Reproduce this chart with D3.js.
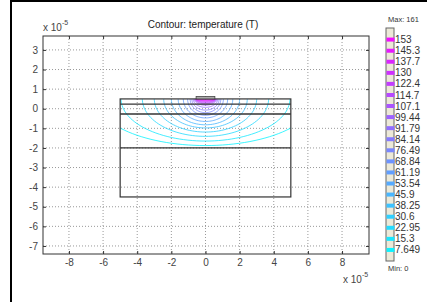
<!DOCTYPE html>
<html>
<head>
<meta charset="utf-8">
<script src="https://cdn.jsdelivr.net/npm/d3@7"></script>
<style>
  body { margin: 0; background: #fff; }
  svg { display: block; font-family: Arial, "Liberation Sans", sans-serif; }
  .tick text { fill: #444; font-size: 10px; }
  .tick line { stroke: #333; }
  .grid line { stroke: #999; stroke-dasharray: 1,2; }
  .lbl-xs { font-size: 10px; fill: #333; }
</style>
</head>
<body>
<div id="chart"></div>
<script>
// axis ticks (units of 1e-5)
var xTicks = [-8, -6, -4, -2, 0, 2, 4, 6, 8];
var yTicks = [-7, -6, -5, -4, -3, -2, -1, 0, 1, 2, 3];

// geometry (units of 1e-5)
var domainX = [-5, 5];
var layerY = [0.5, 0.24, -0.27, -2, -4.5];
var heater = { x0: -0.55, x1: 0.55, y0: 0.5, y1: 0.62 };

// contour levels and their extent under the heater
var levels = [7.649, 15.3, 22.95, 30.6, 38.25, 45.9, 53.54, 61.19, 68.84, 76.49,
              84.14, 91.79, 99.44, 107.1, 114.7, 122.4, 130, 137.7, 145.3, 153];
var contourRx = [6.4, 4.95, 3.7, 3.0, 2.45, 2.0, 1.6, 1.3, 1.05, 0.9,
                 0.8, 0.72, 0.66, 0.62, 0.6, 0.58, 0.57, 0.56, 0.55, 0.54];
var contourRy = [2.38, 2.15, 1.91, 1.69, 1.48, 1.32, 1.15, 0.97, 0.84, 0.7,
                 0.57, 0.43, 0.32, 0.25, 0.2, 0.16, 0.12, 0.09, 0.06, 0.03];
var tMin = 0, tMax = 161;

var margin = { top: 36, right: 58, bottom: 48, left: 43 };
var W = 427, H = 302;
var width = W - margin.left - margin.right;
var height = H - margin.top - margin.bottom;

var svg = d3.select("#chart").append("svg")
    .attr("width", W)
    .attr("height", H);

// outer frame
svg.append("rect")
    .attr("x", 11).attr("y", 1)
    .attr("width", 600).attr("height", 500)
    .attr("fill", "#fff")
    .attr("stroke", "#000")
    .attr("stroke-width", 2);

var x = d3.scaleLinear().domain([-9.52, 9.58]).range([0, width]);
var y = d3.scaleLinear().domain([-7.41, 3.71]).range([height, 0]);
var color = d3.scaleLinear().domain([tMin, tMax])
    .range(["#00ffff", "#ff00ff"]).interpolate(d3.interpolateRgb);
var fmt = function(d) { return String(d); };

var g = svg.append("g")
    .attr("transform", "translate(" + margin.left + "," + margin.top + ")");

// grid
var grid = g.append("g").attr("class", "grid");
grid.selectAll(".gx").data(xTicks).enter().append("line")
    .attr("x1", function(d) { return x(d); })
    .attr("x2", function(d) { return x(d); })
    .attr("y1", 0).attr("y2", height);
grid.selectAll(".gy").data(yTicks).enter().append("line")
    .attr("y1", function(d) { return y(d); })
    .attr("y2", function(d) { return y(d); })
    .attr("x1", 0).attr("x2", width);

// contours, clipped to the upper layer
g.append("clipPath").attr("id", "clip")
  .append("rect")
    .attr("x", x(domainX[0]))
    .attr("y", y(layerY[0]))
    .attr("width", x(domainX[1]) - x(domainX[0]))
    .attr("height", y(layerY[3]) - y(layerY[0]));

var angles = d3.range(0, 181, 3).map(function(a) { return a * Math.PI / 180; });
var contourLine = d3.line()
    .x(function(d) { return x(d[0]); })
    .y(function(d) { return y(d[1]); })
    .curve(d3.curveBasis);

var cy0 = heater.y0;
g.append("g").attr("clip-path", "url(#clip)")
  .selectAll("path").data(levels).enter().append("path")
    .attr("fill", "none")
    .attr("stroke", function(d) { return color(d); })
    .attr("stroke-opacity", 0.8)
    .attr("stroke-width", 1)
    .attr("d", function(d, i) {
        var rx = contourRx[i], ry = contourRy[i];
        return contourLine(angles.map(function(a) {
            return [rx * Math.cos(a), cy0 - ry * Math.sin(a)];
        }));
    });

// geometry
g.append("rect")
    .attr("x", x(domainX[0]))
    .attr("y", y(layerY[0]))
    .attr("width", x(domainX[1]) - x(domainX[0]))
    .attr("height", y(layerY[4]) - y(layerY[0]))
    .attr("fill", "none")
    .attr("stroke", "#333")
    .attr("stroke-width", 1.2);
g.selectAll(".layer").data(layerY.slice(1, 4)).enter().append("line")
    .attr("x1", x(domainX[0])).attr("x2", x(domainX[1]))
    .attr("y1", function(d) { return y(d); })
    .attr("y2", function(d) { return y(d); })
    .attr("stroke", "#333")
    .attr("stroke-width", function(d, i) { return i === 1 ? 1.6 : 1.2; });
g.append("rect")
    .attr("x", x(heater.x0))
    .attr("y", y(heater.y1))
    .attr("width", x(heater.x1) - x(heater.x0))
    .attr("height", y(heater.y0) - y(heater.y1))
    .attr("fill", "#aaa")
    .attr("stroke", "#444")
    .attr("stroke-width", 0.8);

// axes
g.append("g")
    .attr("transform", "translate(0," + height + ")")
    .call(d3.axisBottom(x).tickValues(xTicks).tickFormat(fmt)
        .tickSizeInner(-3).tickSizeOuter(0).tickPadding(5));
g.append("g")
    .call(d3.axisLeft(y).tickValues(yTicks).tickFormat(fmt)
        .tickSizeInner(-3).tickSizeOuter(0).tickPadding(5));
g.append("g")
    .call(d3.axisTop(x).tickValues(xTicks).tickSizeInner(-3).tickSizeOuter(0).tickFormat(""));
g.append("g")
    .attr("transform", "translate(" + width + ",0)")
    .call(d3.axisRight(y).tickValues(yTicks).tickSizeInner(-3).tickSizeOuter(0).tickFormat(""));
g.selectAll(".domain").remove();
g.append("rect")
    .attr("width", width).attr("height", height)
    .attr("fill", "none").attr("stroke", "#333");

// title and exponent labels
g.append("text")
    .attr("x", width / 2 - 3)
    .attr("y", -8)
    .attr("text-anchor", "middle")
    .attr("font-size", "10px")
    .attr("fill", "#222")
    .text("Contour: temperature (T)");

function exponent(sel) {
    sel.attr("font-size", "10px").attr("fill", "#444");
    sel.append("tspan").text("x 10");
    sel.append("tspan").attr("font-size", "7px").attr("dy", -6).text("-5");
}
g.append("text").attr("x", 0).attr("y", -5).call(exponent);
g.append("text").attr("x", width - 26).attr("y", height + 29).call(exponent);

// colour legend
var lx = 386, lw = 8;
var ly = d3.scaleLinear().domain([tMin, tMax]).range([261, 28]);
var legend = svg.append("g");
legend.append("rect")
    .attr("x", lx).attr("y", ly(tMax))
    .attr("width", lw).attr("height", ly(tMin) - ly(tMax))
    .attr("fill", "#ece9d8")
    .attr("stroke", "#666");
legend.selectAll(".sw").data(levels).enter().append("rect")
    .attr("x", lx + 0.5).attr("width", lw)
    .attr("y", function(d) { return ly(d) - 2; })
    .attr("height", 4)
    .attr("fill", function(d) { return color(d); });
legend.selectAll(".lab").data(levels).enter().append("text")
    .attr("class", "lbl-xs")
    .attr("x", lx + lw + 1)
    .attr("y", function(d) { return ly(d); })
    .attr("dy", "0.35em")
    .text(function(d) { return d; });
legend.append("text")
    .attr("x", lx + 2).attr("y", 22)
    .attr("font-size", "7.5px").attr("fill", "#333")
    .text("Max: " + tMax);
legend.append("text")
    .attr("x", lx + 2).attr("y", 271)
    .attr("font-size", "7.5px").attr("fill", "#333")
    .text("Min: " + tMin);
</script>
</body>
</html>
